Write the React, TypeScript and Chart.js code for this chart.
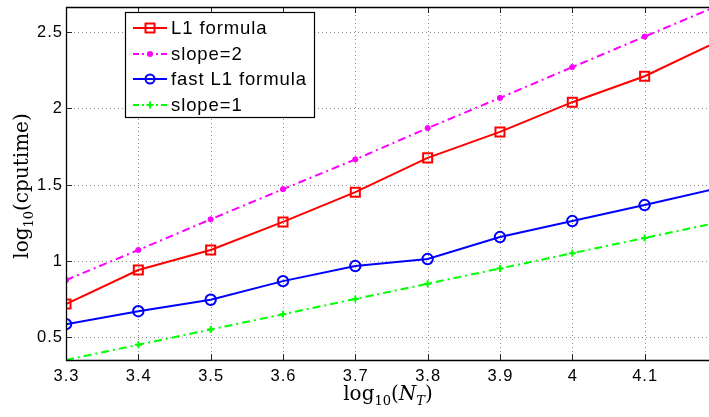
import React, { useEffect, useRef } from "react";
import { Chart, registerables } from "chart.js";

Chart.register(...registerables);

const xValues = [3.3, 3.4, 3.5, 3.6, 3.7, 3.8, 3.9, 4.0, 4.1, 4.2];
const l1Formula = [0.717, 0.94, 1.071, 1.255, 1.45, 1.675, 1.845, 2.04, 2.21, 2.435];
const slope2 = [0.874, 1.071, 1.272, 1.47, 1.665, 1.87, 2.068, 2.27, 2.47, 2.67];
const fastL1 = [0.585, 0.67, 0.745, 0.867, 0.966, 1.012, 1.156, 1.261, 1.366, 1.475];
const slope1 = [0.35, 0.45, 0.55, 0.65, 0.75, 0.85, 0.95, 1.05, 1.15, 1.25];
const xTicks = [3.3, 3.4, 3.5, 3.6, 3.7, 3.8, 3.9, 4.0, 4.1];
const yTicks = [0.5, 1, 1.5, 2, 2.5];
const seriesLabels = ["L1 formula", "slope=2", "fast L1 formula", "slope=1"];

const X_MIN = 3.3;
const X_MAX = 4.189;
const Y_MIN = 0.35;
const Y_MAX = 2.664;

const SANS = "'Liberation Sans', Arial, sans-serif";
const SERIF = "'DejaVu Serif', 'Liberation Serif', serif";

const styles = [
  { color: "#ff0000", dash: [] as number[], point: "rect", radius: 6.4, border: 2, fill: false, lr: 4.5 },
  { color: "#ff00ff", dash: [8, 4, 2, 4], point: "circle", radius: 2.6, border: 1, fill: true, lr: 3 },
  { color: "#0000ff", dash: [] as number[], point: "circle", radius: 5.2, border: 2, fill: false, lr: 4.5 },
  { color: "#00ff00", dash: [8, 4, 2, 4], point: "cross", radius: 3.5, border: 2, fill: false, lr: 3.5 },
];

function drawMarker(ctx: CanvasRenderingContext2D, i: number, x: number, y: number) {
  const s = styles[i];
  const r = s.lr;
  ctx.save();
  ctx.setLineDash([]);
  ctx.strokeStyle = s.color;
  ctx.fillStyle = s.color;
  ctx.lineWidth = 2;
  if (s.point === "rect") {
    ctx.strokeRect(x - r, y - r, r * 2, r * 2);
  } else if (s.point === "circle") {
    ctx.beginPath();
    ctx.arc(x, y, r, 0, Math.PI * 2);
    if (s.fill) ctx.fill();
    else ctx.stroke();
  } else {
    ctx.beginPath();
    ctx.moveTo(x - r, y);
    ctx.lineTo(x + r, y);
    ctx.moveTo(x, y - r);
    ctx.lineTo(x, y + r);
    ctx.stroke();
  }
  ctx.restore();
}

const framePlugin = {
  id: "matlabFrame",
  beforeDatasetsDraw(chart: any) {
    const { ctx, chartArea: a, scales } = chart;
    const xs = scales.x;
    const ys = scales.y;
    ctx.save();
    ctx.strokeStyle = "#8a8a8a";
    ctx.lineWidth = 1;
    ctx.setLineDash([1, 3]);
    xTicks.forEach((t) => {
      const px = Math.round(xs.getPixelForValue(t)) + 0.5;
      ctx.beginPath();
      ctx.moveTo(px, a.top);
      ctx.lineTo(px, a.bottom);
      ctx.stroke();
    });
    yTicks.forEach((t) => {
      const py = Math.round(ys.getPixelForValue(t)) + 0.5;
      ctx.beginPath();
      ctx.moveTo(a.left, py);
      ctx.lineTo(a.right, py);
      ctx.stroke();
    });
    ctx.restore();
  },
  afterDatasetsDraw(chart: any) {
    const { ctx, chartArea: a, scales } = chart;
    const xs = scales.x;
    const ys = scales.y;
    ctx.save();
    ctx.setLineDash([]);
    ctx.strokeStyle = "#262626";
    ctx.lineWidth = 1;
    xTicks.forEach((t) => {
      const px = Math.round(xs.getPixelForValue(t)) + 0.5;
      ctx.beginPath();
      ctx.moveTo(px, a.top);
      ctx.lineTo(px, a.top + 6);
      ctx.moveTo(px, a.bottom);
      ctx.lineTo(px, a.bottom - 6);
      ctx.stroke();
    });
    yTicks.forEach((t) => {
      const py = Math.round(ys.getPixelForValue(t)) + 0.5;
      ctx.beginPath();
      ctx.moveTo(a.left, py);
      ctx.lineTo(a.left + 6, py);
      ctx.stroke();
    });
    ctx.strokeStyle = "#000";
    ctx.lineWidth = 1.3;
    ctx.beginPath();
    ctx.moveTo(a.right + 2, a.top + 0.5);
    ctx.lineTo(a.left + 0.5, a.top + 0.5);
    ctx.lineTo(a.left + 0.5, a.bottom + 0.5);
    ctx.lineTo(a.right + 2, a.bottom + 0.5);
    ctx.stroke();

    ctx.fillStyle = "#000";
    ctx.font = `16.5px ${SANS}`;
    (ctx as any).letterSpacing = "1px";
    ctx.textAlign = "center";
    ctx.textBaseline = "middle";
    xTicks.forEach((t) => {
      const px = xs.getPixelForValue(t);
      ctx.fillText(String(t), px + 0.5, a.bottom + 16);
    });
    ctx.textAlign = "right";
    yTicks.forEach((t) => {
      const py = ys.getPixelForValue(t);
      ctx.fillText(String(t), a.left - 3, py + 0.5);
    });
    (ctx as any).letterSpacing = "0px";

    const build = (parts: { t: string; sub?: boolean; it?: boolean }[]) => {
      const pieces = [{ t: "log" }, { t: "10", sub: true }, { t: "(" }, ...parts, { t: ")" }];
      const font = (p: any) => `${p.it ? "italic " : ""}${p.sub ? 13 : 20}px ${SERIF}`;
      let w = 0;
      pieces.forEach((p: any) => {
        ctx.font = font(p);
        w += ctx.measureText(p.t).width;
      });
      return { pieces, font, w };
    };
    const renderPieces = (info: any, cx: number, cy: number) => {
      let x = cx - info.w / 2;
      ctx.textAlign = "left";
      ctx.textBaseline = "alphabetic";
      info.pieces.forEach((p: any) => {
        ctx.font = info.font(p);
        ctx.fillText(p.t, x, cy + (p.sub ? 5 : 0));
        x += ctx.measureText(p.t).width;
      });
    };
    const xInfo = build([{ t: "N", it: true }, { t: "T", sub: true, it: true }]);
    renderPieces(xInfo, 388, 400);
    const yInfo = build([{ t: "cputime" }]);
    ctx.save();
    ctx.translate(28, 186);
    ctx.rotate(-Math.PI / 2);
    renderPieces(yInfo, 0, 0);
    ctx.restore();

    const lx = 125.5, ly = 12.5, lw = 189, lh = 105;
    ctx.fillStyle = "#fff";
    ctx.fillRect(lx, ly, lw, lh);
    ctx.strokeStyle = "#000";
    ctx.lineWidth = 1.2;
    ctx.strokeRect(lx, ly, lw, lh);
    const rowsY = [28, 54, 79, 105];
    seriesLabels.forEach((lab, i) => {
      const y = rowsY[i];
      const s = styles[i];
      ctx.save();
      ctx.strokeStyle = s.color;
      ctx.lineWidth = 2;
      ctx.setLineDash(s.dash.length ? [6, 3, 2, 3] : []);
      ctx.beginPath();
      ctx.moveTo(133, y);
      ctx.lineTo(167, y);
      ctx.stroke();
      ctx.restore();
      drawMarker(ctx, i, 150, y);
      ctx.fillStyle = "#000";
      ctx.font = `18.5px ${SANS}`;
      (ctx as any).letterSpacing = "0.9px";
      ctx.textAlign = "left";
      ctx.textBaseline = "middle";
      ctx.fillText(lab, 171, y + 1);
      (ctx as any).letterSpacing = "0px";
    });
    ctx.restore();
  },
};

export default function App() {
  const ref = useRef<HTMLCanvasElement>(null);
  useEffect(() => {
    document.body.style.margin = "0";
    const seriesData = [l1Formula, slope2, fastL1, slope1];
    const chart = new Chart(ref.current!, {
      type: "line",
      data: {
        datasets: seriesData.map((vals, i) => ({
          label: seriesLabels[i],
          data: xValues.map((x, j) => ({ x, y: vals[j] })),
          borderColor: styles[i].color,
          backgroundColor: styles[i].fill ? styles[i].color : "rgba(0,0,0,0)",
          borderWidth: 2,
          borderDash: styles[i].dash,
          pointStyle: styles[i].point as any,
          pointRadius: styles[i].radius,
          pointBorderWidth: styles[i].border,
          pointBorderColor: styles[i].color,
          pointBackgroundColor: styles[i].fill ? styles[i].color : "rgba(0,0,0,0)",
          tension: 0,
        })),
      },
      options: {
        animation: false,
        responsive: false,
        devicePixelRatio: 1,
        layout: { autoPadding: false, padding: { top: 7, right: 0, left: 0, bottom: 0 } },
        plugins: { legend: { display: false }, tooltip: { enabled: false } },
        scales: {
          x: {
            type: "linear",
            min: X_MIN,
            max: X_MAX,
            grid: { display: false },
            border: { display: false },
            ticks: { display: false },
            afterFit: (s: any) => {
              s.height = 57;
            },
          },
          y: {
            type: "linear",
            min: Y_MIN,
            max: Y_MAX,
            grid: { display: false },
            border: { display: false },
            ticks: { display: false },
            afterFit: (s: any) => {
              s.width = 66;
            },
          },
        },
      },
      plugins: [framePlugin],
    });
    return () => chart.destroy();
  }, []);
  return (
    <div style={{ position: "absolute", left: 0, top: 0, width: 709, height: 417, background: "#fff" }}>
      <canvas ref={ref} width={709} height={417} style={{ display: "block" }} />
    </div>
  );
}
